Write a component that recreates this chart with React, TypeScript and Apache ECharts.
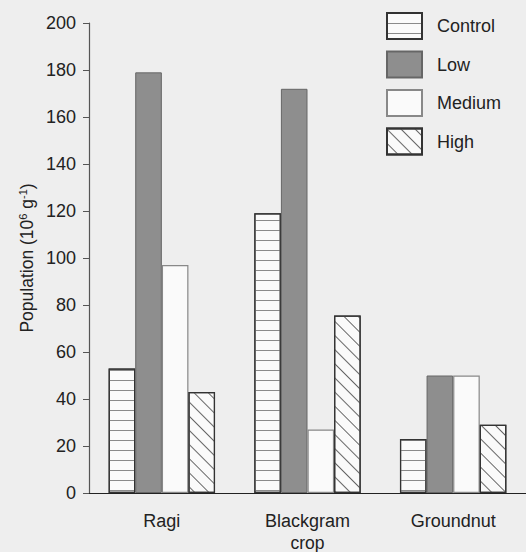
import React, { useEffect, useRef } from "react";
import * as echarts from "echarts";

const categories = ["Ragi", "Blackgram", "Groundnut"];
const seriesNames = ["Control", "Low", "Medium", "High"];
const controlValues = [53, 119, 23];
const lowValues = [179, 172, 50];
const mediumValues = [97, 27, 50];
const highValues = [43, 75.5, 29];
const yTicks = { min: 0, max: 200, interval: 20 };

const FONT = "'Liberation Sans', Arial, Helvetica, sans-serif";

export default function App() {
  const ref = useRef<HTMLDivElement>(null);
  useEffect(() => {
    if (!ref.current) return;
    const chart = echarts.init(ref.current, undefined, { renderer: "svg" });
    const common = { type: "bar", barWidth: 26.6, barGap: "0%" };
    chart.setOption({
      animation: false,
      backgroundColor: "#eeeeee",
      textStyle: { fontFamily: FONT, color: "#222" },
      legend: {
        orient: "vertical",
        left: 386,
        top: 12,
        padding: 0,
        itemWidth: 35,
        itemHeight: 26,
        itemGap: 10.5,
        icon: "rect",
        data: seriesNames,
        textStyle: { fontFamily: FONT, fontSize: 18, color: "#222", padding: [0, 0, 0, 10] },
      },
      grid: { left: 89, right: 0, top: 23, bottom: 59, containLabel: false, outerBoundsMode: "none" },
      xAxis: {
        type: "category",
        data: categories,
        name: "crop",
        nameLocation: "middle",
        nameGap: 42,
        nameMoveOverlap: false,
        nameTextStyle: { fontFamily: FONT, fontSize: 17.5, lineHeight: 16, color: "#222" },
        axisLine: { show: true, lineStyle: { color: "#222", width: 1.2 } },
        axisTick: { show: false },
        axisLabel: { margin: 19, fontFamily: FONT, fontSize: 18, lineHeight: 18, color: "#222" },
      },
      yAxis: {
        type: "value",
        min: yTicks.min,
        max: yTicks.max,
        interval: yTicks.interval,
        name: "Population (10{sup|6} g{sup|-1})",
        nameLocation: "middle",
        nameRotate: 90,
        nameGap: 53,
        nameMoveOverlap: false,
        nameTextStyle: {
          fontFamily: FONT,
          fontSize: 17.5,
          color: "#222",
          rich: { sup: { fontSize: 11, verticalAlign: "top", padding: [0, 0, 8, 0], fontFamily: FONT, color: "#222" } },
        },
        splitLine: { show: false },
        axisLine: { show: true, lineStyle: { color: "#555", width: 1.2 } },
        axisTick: { show: true, inside: false, length: 6, lineStyle: { color: "#555" } },
        axisLabel: { margin: 13, fontFamily: FONT, fontSize: 18, color: "#222" },
      },
      series: [
        {
          ...common,
          name: "Control",
          data: controlValues,
          itemStyle: {
            color: "#fafafa",
            borderColor: "#333",
            borderWidth: 1.2,
            decal: { symbol: "rect", symbolSize: 1, dashArrayX: [1, 0], dashArrayY: [1, 9], rotation: 0, color: "#8a8a8a" },
          },
        },
        {
          ...common,
          name: "Low",
          data: lowValues,
          itemStyle: { color: "#8e8e8e", borderColor: "#666", borderWidth: 1 },
        },
        {
          ...common,
          name: "Medium",
          data: mediumValues,
          itemStyle: { color: "#fafafa", borderColor: "#888", borderWidth: 1.2 },
        },
        {
          ...common,
          name: "High",
          data: highValues,
          itemStyle: {
            color: "#fafafa",
            borderColor: "#333",
            borderWidth: 1.2,
            decal: { symbol: "rect", symbolSize: 1, dashArrayX: [1, 0], dashArrayY: [1, 8.5], rotation: Math.PI / 4, color: "#666" },
          },
        },
      ],
    });
    return () => chart.dispose();
  }, []);
  return <div ref={ref} style={{ position: "fixed", left: 0, top: 0, width: 526, height: 552 }} />;
}
